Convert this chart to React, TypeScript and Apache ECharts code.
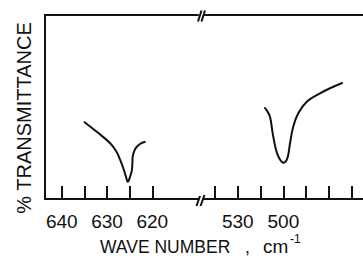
import React, { useEffect, useRef } from "react";
import * as echarts from "echarts";

// Left segment (high wavenumbers) and right segment (after the axis break)
const leftTicks = [640, 635, 630, 625, 620];
const leftLabels = [640, 630, 620];
const rightTicks = [545, 530, 515, 500, 485, 470, 455];
const rightLabels = [530, 500];

// Band near 625 cm-1: [wavenumber, %T]
const band1Wave = [635.1, 632.2, 629.3, 627.9, 627.1, 626.4, 625.8, 625.4, 625.0, 624.5, 624.3, 623.9, 623.4, 622.5, 621.5];
const band1T = [42.0, 36.4, 30.3, 25.7, 21.2, 16.7, 12.0, 9.4, 11.4, 15.8, 23.4, 26.6, 28.4, 30.2, 31.1];

// Band near 500 cm-1
const band2Wave = [512.5, 511.1, 508.8, 507.0, 504.8, 502.7, 500.0, 497.4, 495.6, 493.5, 490.2, 484.6, 475.9, 469.3, 460.9];
const band2T = [49.8, 48.4, 44.7, 35.7, 26.6, 22.1, 19.7, 22.1, 30.3, 39.3, 46.6, 52.9, 57.4, 60.2, 63.2];

const INK = "#111";
const FONT = "'Liberation Sans', Arial, sans-serif";

export default function App() {
  const ref = useRef<HTMLDivElement>(null);
  useEffect(() => {
    if (!ref.current) return;
    const chart = echarts.init(ref.current, undefined, { renderer: "svg" });
    const axisLine = { show: true, onZero: false, lineStyle: { color: INK, width: 2 } };
    const bottomAxis = (gridIndex: number, min: number, max: number, ticks: number[], labels: number[]) => ({
      type: "value",
      gridIndex,
      position: "bottom",
      inverse: true,
      min,
      max,
      axisLine,
      splitLine: { show: false },
      axisTick: {
        show: true,
        inside: true,
        length: 13,
        customValues: ticks,
        lineStyle: { color: INK, width: 2 },
      },
      axisLabel: {
        show: true,
        customValues: labels,
        margin: 22,
        verticalAlign: "middle",
        color: INK,
        fontSize: 19,
        fontFamily: FONT,
      },
    });
    const topAxis = (gridIndex: number, min: number, max: number) => ({
      type: "value",
      gridIndex,
      position: "top",
      inverse: true,
      min,
      max,
      axisLine,
      axisTick: { show: false },
      axisLabel: { show: false },
      splitLine: { show: false },
    });
    const lMin = 609.9, lMax = 643.7, rMin = 447.6, rMax = 552.2;
    const slash = (x1: number, y1: number, x2: number, y2: number) => ({
      type: "line",
      shape: { x1, y1, x2, y2 },
      style: { stroke: INK, lineWidth: 2 },
    });
    chart.setOption({
      animation: false,
      backgroundColor: "#fff",
      grid: [
        { left: 45, top: 15, width: 153, height: 184 },
        { left: 204, top: 15, right: 0, height: 184 },
      ],
      xAxis: [
        bottomAxis(0, lMin, lMax, leftTicks, leftLabels),
        topAxis(0, lMin, lMax),
        bottomAxis(1, rMin, rMax, rightTicks, rightLabels),
        topAxis(1, rMin, rMax),
      ],
      yAxis: [
        {
          type: "value",
          gridIndex: 0,
          min: 0,
          max: 100,
          axisLine,
          axisTick: { show: false },
          axisLabel: { show: false },
          splitLine: { show: false },
        },
        {
          type: "value",
          gridIndex: 1,
          min: 0,
          max: 100,
          show: false,
        },
      ],
      series: [
        {
          type: "line",
          xAxisIndex: 0,
          yAxisIndex: 0,
          data: band1Wave.map((w, i) => [w, band1T[i]]),
          smooth: 0.4,
          symbol: "none",
          lineStyle: { color: INK, width: 2 },
        },
        {
          type: "line",
          xAxisIndex: 2,
          yAxisIndex: 1,
          data: band2Wave.map((w, i) => [w, band2T[i]]),
          smooth: 0.4,
          symbol: "none",
          lineStyle: { color: INK, width: 2 },
        },
      ],
      graphic: [
        slash(198, 21.5, 201.5, 10.5),
        slash(201.5, 21.5, 205, 10.5),
        slash(196.5, 206, 200, 196),
        slash(200.5, 206, 204.5, 195),
        {
          type: "text",
          x: 24,
          y: 118,
          rotation: Math.PI / 2,
          style: {
            text: "% TRANSMITTANCE",
            fill: INK,
            fontSize: 20,
            fontFamily: FONT,
            align: "center",
            verticalAlign: "middle",
          },
        },
        {
          type: "text",
          x: 100,
          y: 246.7,
          style: {
            text: "WAVE NUMBER",
            fill: INK,
            fontSize: 17.5,
            fontFamily: FONT,
            align: "left",
            verticalAlign: "middle",
          },
        },
        {
          type: "text",
          x: 245,
          y: 246.7,
          style: { text: ",", fill: INK, fontSize: 17.5, fontFamily: FONT, align: "left", verticalAlign: "middle" },
        },
        {
          type: "text",
          x: 263,
          y: 246.7,
          style: { text: "cm", fill: INK, fontSize: 19, fontFamily: FONT, align: "left", verticalAlign: "middle" },
        },
        {
          type: "text",
          x: 290,
          y: 239,
          style: { text: "-1", fill: INK, fontSize: 12, fontFamily: FONT, align: "left", verticalAlign: "middle" },
        },
      ],
    });
    return () => chart.dispose();
  }, []);
  return <div ref={ref} style={{ position: "fixed", left: 0, top: 0, width: 363, height: 256 }} />;
}
